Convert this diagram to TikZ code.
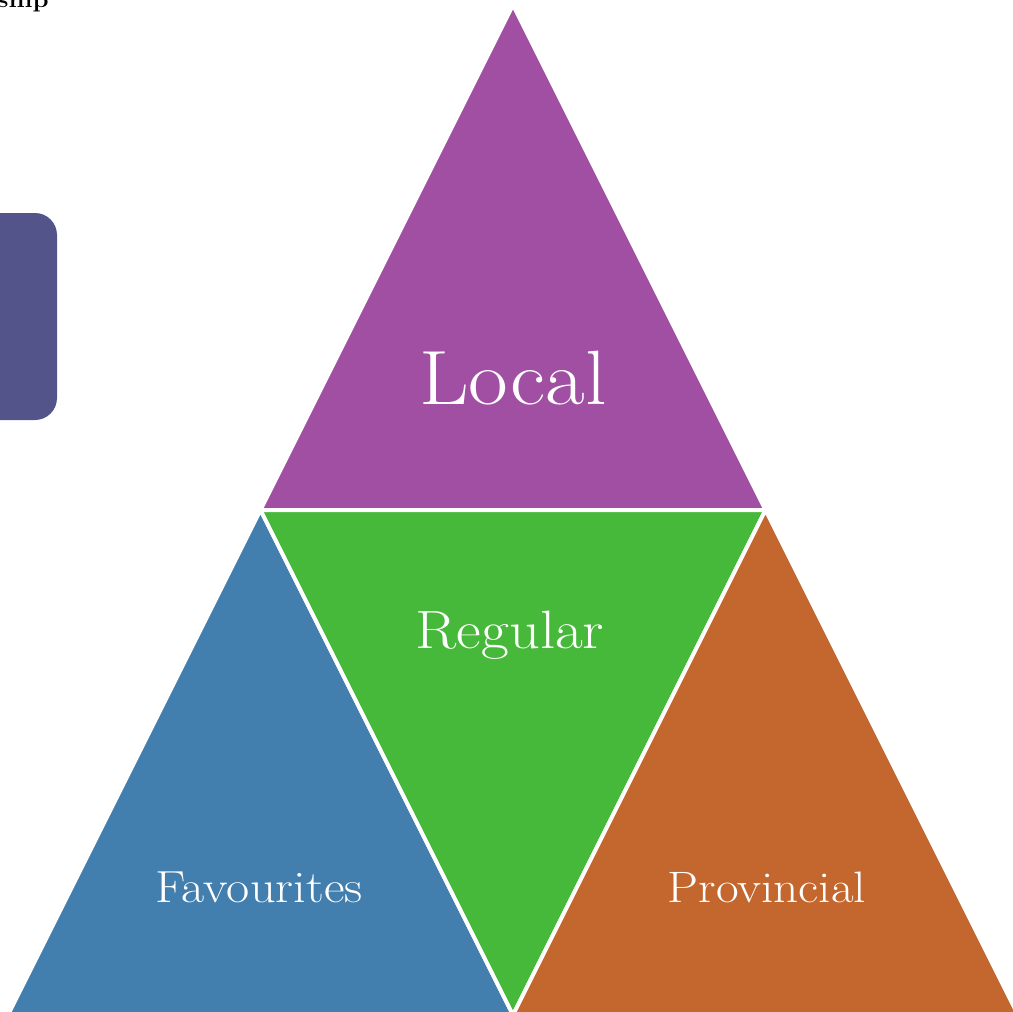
\documentclass[tikz,border=0pt]{standalone}
\usepackage{graphicx}
\definecolor{cpurple}{HTML}{A04FA2}
\definecolor{cgreen}{HTML}{46B83A}
\definecolor{cblue}{HTML}{427FAF}
\definecolor{corange}{HTML}{C4672E}
\definecolor{cbox}{HTML}{52548A}
\newcommand{\wide}[1]{\scalebox{1.12}[1]{#1}}
\tikzset{
  seg/.style={draw=white, line width=4pt, line join=miter},
  lbl/.style={text=white, anchor=base, inner sep=0pt},
}
\begin{document}
\begin{tikzpicture}[x=1pt,y=-1pt]
\useasboundingbox (0,0) rectangle (1013,1012);
\clip (0,0) rectangle (1013,1012);
\coordinate (A) at (513,5);
\coordinate (L) at (260.5,510);
\coordinate (R) at (765.5,510);
\coordinate (B) at (513,1015);
\coordinate (BL) at (8,1015);
\coordinate (BR) at (1018,1015);
% left rounded box
\fill[cbox, rounded corners=22pt] (-40,213) rectangle (57,420);
% triangles
\filldraw[seg, fill=cpurple] (A) -- (L) -- (R) -- cycle;
\filldraw[seg, fill=cblue] (L) -- (BL) -- (B) -- cycle;
\filldraw[seg, fill=cgreen] (L) -- (R) -- (B) -- cycle;
\filldraw[seg, fill=corange] (R) -- (B) -- (BR) -- cycle;
% labels
\node[lbl, font=\fontsize{77}{80}\selectfont] (local) at (513,404) {\wide{Local}};
\node[lbl, font=\fontsize{54}{58}\selectfont] (regular) at (510,648) {\wide{Regular}};
\node[lbl, font=\fontsize{45}{48}\selectfont] (fav) at (259,902) {\wide{Favourites}};
\node[lbl, font=\fontsize{44}{48}\selectfont] (prov) at (767,902) {\wide{Provincial}};
\node[anchor=base east, inner sep=0pt, font=\fontsize{23}{26}\selectfont\bfseries] (ship) at (49,7) {\wide{ship}};
\end{tikzpicture}
\end{document}
